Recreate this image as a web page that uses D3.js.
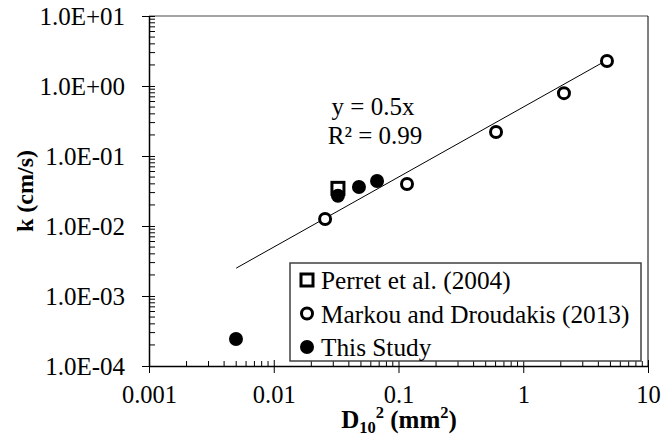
<!DOCTYPE html>
<html>
<head>
<meta charset="utf-8">
<script src="https://cdn.jsdelivr.net/npm/d3@7"></script>
<style>
  body { margin: 0; background: #fff; }
  svg text { font-family: "Liberation Serif", "Times New Roman", serif; fill: #000; }
</style>
</head>
<body>
<div id="chart"></div>
<script>
// values
const perretX = [0.0327];
const perretY = [0.0345];
const markouX = [0.0258, 0.117, 0.605, 2.12, 4.69];
const markouY = [0.0126, 0.0398, 0.22, 0.79, 2.28];
const studyX = [0.00498, 0.0327, 0.0482, 0.0673];
const studyY = [0.000243, 0.027, 0.036, 0.044];
const trendX = [0.005, 4.69];
const trendY = [0.0025, 2.345];
const xTicks = [0.001, 0.01, 0.1, 1, 10];
const xTickLabels = ["0.001", "0.01", "0.1", "1", "10"];
const yTicks = [1e-4, 1e-3, 1e-2, 1e-1, 1, 10];
const yTickLabels = ["1.0E-04", "1.0E-03", "1.0E-02", "1.0E-01", "1.0E+00", "1.0E+01"];
const legendNames = ["Perret et al. (2004)", "Markou and Droudakis (2013)", "This Study"];

const W = 662, H = 436;
const margin = { top: 16, right: 14, bottom: 70, left: 149 };
const width = W - margin.left - margin.right,
    height = H - margin.top - margin.bottom;

const x = d3.scaleLog().domain([0.001, 10]).range([0, width]);
const y = d3.scaleLog().domain([1e-4, 10]).range([height, 0]);

const svg = d3.select("#chart").append("svg")
    .attr("width", W).attr("height", H);
const g = svg.append("g")
    .attr("transform", "translate(" + margin.left + "," + margin.top + ")");

// frame: top gray, right dark
g.append("line").attr("x1", 0).attr("x2", width).attr("y1", 0).attr("y2", 0)
    .attr("stroke", "#868686").attr("stroke-width", 1.5);
g.append("line").attr("x1", width).attr("x2", width).attr("y1", 0).attr("y2", height)
    .attr("stroke", "#000").attr("stroke-width", 1);

// minor ticks (inside)
const minorX = [], minorY = [];
for (let e = -3; e < 1; e++) for (let m = 2; m < 10; m++) minorX.push(m * Math.pow(10, e));
for (let e = -4; e < 1; e++) for (let m = 2; m < 10; m++) minorY.push(m * Math.pow(10, e));

g.selectAll(".xminor").data(minorX).enter().append("line")
    .attr("x1", d => x(d)).attr("x2", d => x(d))
    .attr("y1", height).attr("y2", height - 5)
    .attr("stroke", "#000");
g.selectAll(".yminor").data(minorY).enter().append("line")
    .attr("y1", d => y(d)).attr("y2", d => y(d))
    .attr("x1", 0).attr("x2", 6)
    .attr("stroke", "#000");

// axes
const xAxis = g.append("g").attr("transform", "translate(0," + height + ")")
    .call(d3.axisBottom(x).tickValues(xTicks)
        .tickFormat((d, i) => xTickLabels[i]).tickSizeInner(7).tickSizeOuter(0).tickPadding(13));
const yAxis = g.append("g")
    .call(d3.axisLeft(y).tickValues(yTicks)
        .tickFormat((d, i) => yTickLabels[i]).tickSizeInner(7).tickSizeOuter(0).tickPadding(17));
[xAxis, yAxis].forEach(a => {
    a.attr("font-family", null).attr("font-size", null);
    a.select(".domain").attr("stroke", "#000").attr("stroke-width", 1.5);
    a.selectAll("text").attr("fill", "#000").style("font-size", "24.5px");
    a.selectAll(".tick line").attr("stroke", "#000");
});
yAxis.selectAll("text").style("font-size", "25px");
// major ticks cross the axis line
xAxis.selectAll(".tick line").attr("y1", -6);
yAxis.selectAll(".tick line").attr("x1", 6);

// trendline
g.append("path")
    .datum(trendX.map((d, i) => [d, trendY[i]]))
    .attr("fill", "none").attr("stroke", "#000").attr("stroke-width", 1)
    .attr("d", d3.line().x(d => x(d[0])).y(d => y(d[1])));

// trend text
const eq = g.append("text").attr("text-anchor", "middle").style("font-size", "25px");
eq.append("tspan").attr("x", 224).attr("y", 99).text("y = 0.5x");
eq.append("tspan").attr("x", 226).attr("y", 128).text("R² = 0.99");

// series
g.selectAll(".perret").data(perretX).enter().append("rect")
    .attr("x", (d, i) => x(d) - 6).attr("y", (d, i) => y(perretY[i]) - 6)
    .attr("width", 12).attr("height", 12)
    .attr("fill", "#fff").attr("stroke", "#000").attr("stroke-width", 3);
g.selectAll(".markou").data(markouX).enter().append("circle")
    .attr("cx", d => x(d)).attr("cy", (d, i) => y(markouY[i])).attr("r", 5.5)
    .attr("fill", "#fff").attr("stroke", "#000").attr("stroke-width", 3);
g.selectAll(".study").data(studyX).enter().append("circle")
    .attr("cx", d => x(d)).attr("cy", (d, i) => y(studyY[i])).attr("r", 7)
    .attr("fill", "#000");

// legend
const lg = svg.append("g").attr("transform", "translate(290,263)");
lg.append("rect").attr("x", 0).attr("y", 0).attr("width", 351).attr("height", 98)
    .attr("fill", "#fff").attr("stroke", "#404040").attr("stroke-width", 1.5);
const rows = lg.selectAll(".row").data(legendNames).enter().append("g")
    .attr("transform", (d, i) => "translate(0," + (17 + i * 33.5) + ")");
rows.each(function (d, i) {
    const r = d3.select(this);
    if (i === 0) {
        r.append("rect").attr("x", 11).attr("y", -6).attr("width", 12).attr("height", 12)
            .attr("fill", "#fff").attr("stroke", "#000").attr("stroke-width", 3);
    } else if (i === 1) {
        r.append("circle").attr("cx", 17).attr("cy", 0).attr("r", 5.5)
            .attr("fill", "#fff").attr("stroke", "#000").attr("stroke-width", 3);
    } else {
        r.append("circle").attr("cx", 17).attr("cy", 0).attr("r", 7).attr("fill", "#000");
    }
});
rows.append("text").attr("x", 31).attr("y", 9).style("font-size", "25.3px").text(d => d);

// axis titles
const xt = svg.append("text").attr("x", 399).attr("y", 428)
    .attr("text-anchor", "middle").style("font-size", "25px").style("font-weight", "bold");
xt.append("tspan").text("D");
xt.append("tspan").attr("dy", 5).style("font-size", "16.5px").text("10");
xt.append("tspan").attr("dy", -15).style("font-size", "16.5px").text("2");
xt.append("tspan").attr("dy", 10).text(" (mm");
xt.append("tspan").attr("dy", -10).style("font-size", "16.5px").text("2");
xt.append("tspan").attr("dy", 10).text(")");

svg.append("text").attr("transform", "translate(33,191) rotate(-90)")
    .attr("text-anchor", "middle").style("font-size", "24px").style("font-weight", "bold")
    .text("k (cm/s)");
</script>
</body>
</html>
